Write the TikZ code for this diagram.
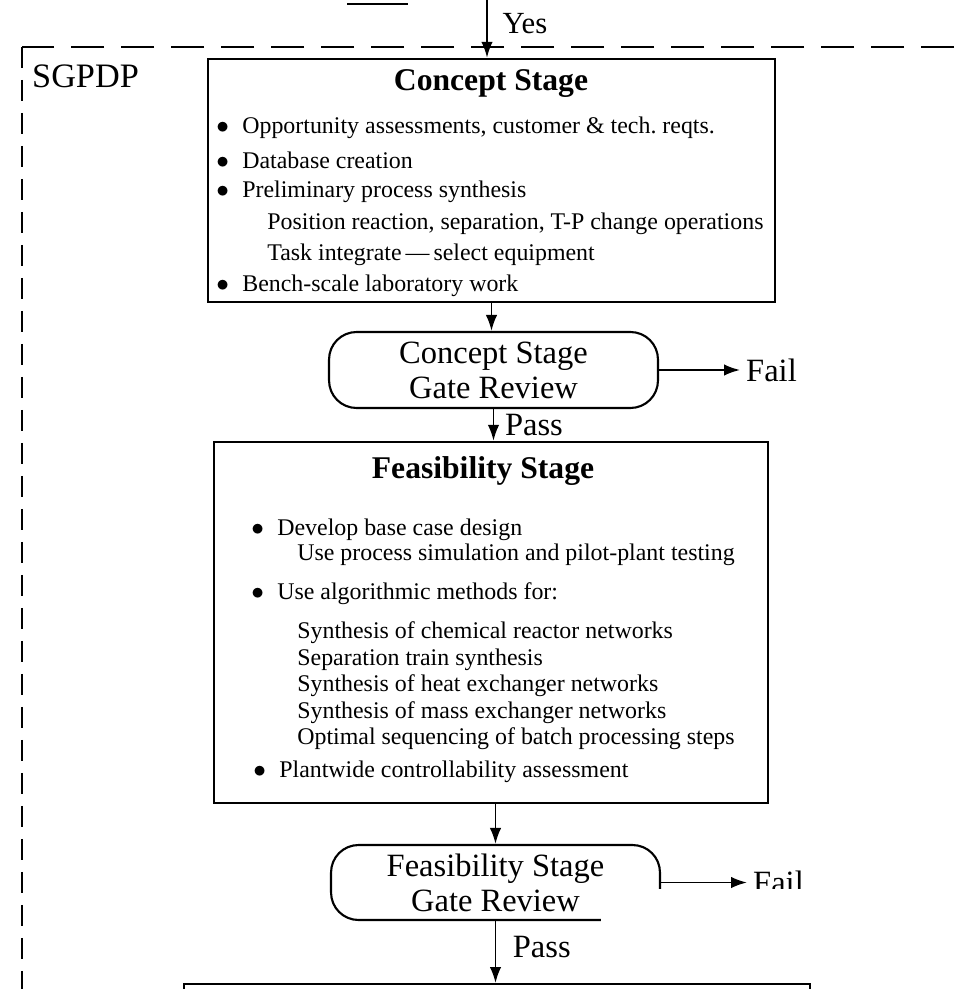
\documentclass[tikz,border=0pt]{standalone}
\usepackage{fontspec}
\setmainfont{Liberation Serif}
\usetikzlibrary{arrows.meta,positioning}

\newcommand{\bul}{\makebox[0.52cm][l]{$\bullet$}}

\begin{document}
\frenchspacing
\begin{tikzpicture}[x=0.02cm,y=-0.02cm,
    stagebox/.style={draw,line width=1.4pt,inner sep=0pt},
    gatebox/.style={draw,line width=1.2pt,rounded corners=0.55cm,minimum width=6.58cm,
        minimum height=1.52cm,align=center,font=\fontsize{18.5}{20}\selectfont},
    stagetitle/.style={font=\fontsize{18}{20}\selectfont\bfseries},
    itemtext/.style={anchor=west,inner sep=0pt,font=\fontsize{13.6}{16}\selectfont},
    flowlabel/.style={font=\fontsize{18.5}{20}\selectfont},
    flow/.style={line width=1.1pt,-{Latex[length=3.2mm,width=2.3mm]}}]
  \useasboundingbox (0,0) rectangle (954,989);
  \clip (0,0) rectangle (954,989);

  % SGPDP frame
  \draw[line width=1.5pt,dash pattern=on 0.66cm off 0.34cm] (954,47) -- (22,47);
  \draw[line width=1.5pt,dash pattern=on 0.42cm off 0.24cm] (22,47) -- (22,989);
  \node[flowlabel,anchor=west,font=\fontsize{19.5}{21}\selectfont] (sgpdp) at (26,76) {SGPDP};

  % piece of the stage above
  \draw[line width=1.4pt] (347,4) -- (408,4);

  % Concept Stage
  \node[stagebox,minimum width=11.34cm,minimum height=4.86cm] (concept) at (491.5,180.5) {};
  \node[stagetitle] (concepttitle) at (491,84) {Concept Stage};
  \node[itemtext] (c1) at (216,128) {\bul Opportunity assessments, customer \& tech. reqts.};
  \node[itemtext] (c2) at (216,160) {\bul Database creation};
  \node[itemtext] (c3) at (216,192) {\bul Preliminary process synthesis};
  \node[itemtext] (c3a) at (267,224) {Position reaction, separation, T-P change operations};
  \node[itemtext] (c3b) at (267,255) {Task integrate\,---\,select equipment};
  \node[itemtext] (c4) at (216,286) {\bul Bench-scale laboratory work};

  % Concept gate
  \node[gatebox] (cgate) at (493.5,370) {Concept Stage\\Gate Review};
  \node[flowlabel,anchor=west] (cfail) at (740,370) {Fail};

  % Feasibility Stage
  \node[stagebox,minimum width=11.08cm,minimum height=7.22cm] (feas) at (491,622.5) {};
  \node[stagetitle] (feastitle) at (483,471) {Feasibility Stage};
  \node[itemtext] (f1) at (251,530) {\bul Develop base case design};
  \node[itemtext] (f1a) at (297,555) {Use process simulation and pilot-plant testing};
  \node[itemtext] (f2) at (251,594) {\bul Use algorithmic methods for:};
  \node[itemtext] (f2a) at (297,633) {Synthesis of chemical reactor networks};
  \node[itemtext] (f2b) at (297,660) {Separation train synthesis};
  \node[itemtext] (f2c) at (297,686) {Synthesis of heat exchanger networks};
  \node[itemtext] (f2d) at (297,713) {Synthesis of mass exchanger networks};
  \node[itemtext] (f2e) at (297,739) {Optimal sequencing of batch processing steps};
  \node[itemtext] (f3) at (253,772) {\bul Plantwide controllability assessment};

  % Feasibility gate
  \node[gatebox,minimum height=1.5cm] (fgate) at (495.5,882.5) {Feasibility Stage\\Gate Review};
  \node[flowlabel,anchor=west] (ffail) at (747,882.5) {Fail};

  % next stage (cut off)
  \node[stagebox,anchor=north west,minimum width=12.52cm,minimum height=2cm] (nextstage) at (183,983) {};

  % Connections
  \coordinate (yesin) at (487,0);
  \draw[flow] (yesin) -- (yesin |- concept.north) node[pos=0.4,right,xshift=5pt,font=\fontsize{17.5}{19}\selectfont] {Yes};
  \draw[flow] (concept.south) -- (concept.south |- cgate.north);
  \draw[flow] (cgate.east) -- (cfail.west);
  \draw[flow] (cgate.south) -- (cgate.south |- feas.north) node[midway,right,flowlabel,inner sep=2pt,xshift=4pt] {Pass};
  \draw[flow] (fgate.north |- feas.south) -- (fgate.north);
  \draw[flow] (fgate.east) -- (ffail.west);
  \draw[flow] (fgate.south) -- (fgate.south |- nextstage.north) node[midway,right,flowlabel,xshift=6pt,yshift=3pt] {Pass};

  % blank patch over the scan
  \fill[white] (601,889) rectangle (809,952);
\end{tikzpicture}
\end{document}
